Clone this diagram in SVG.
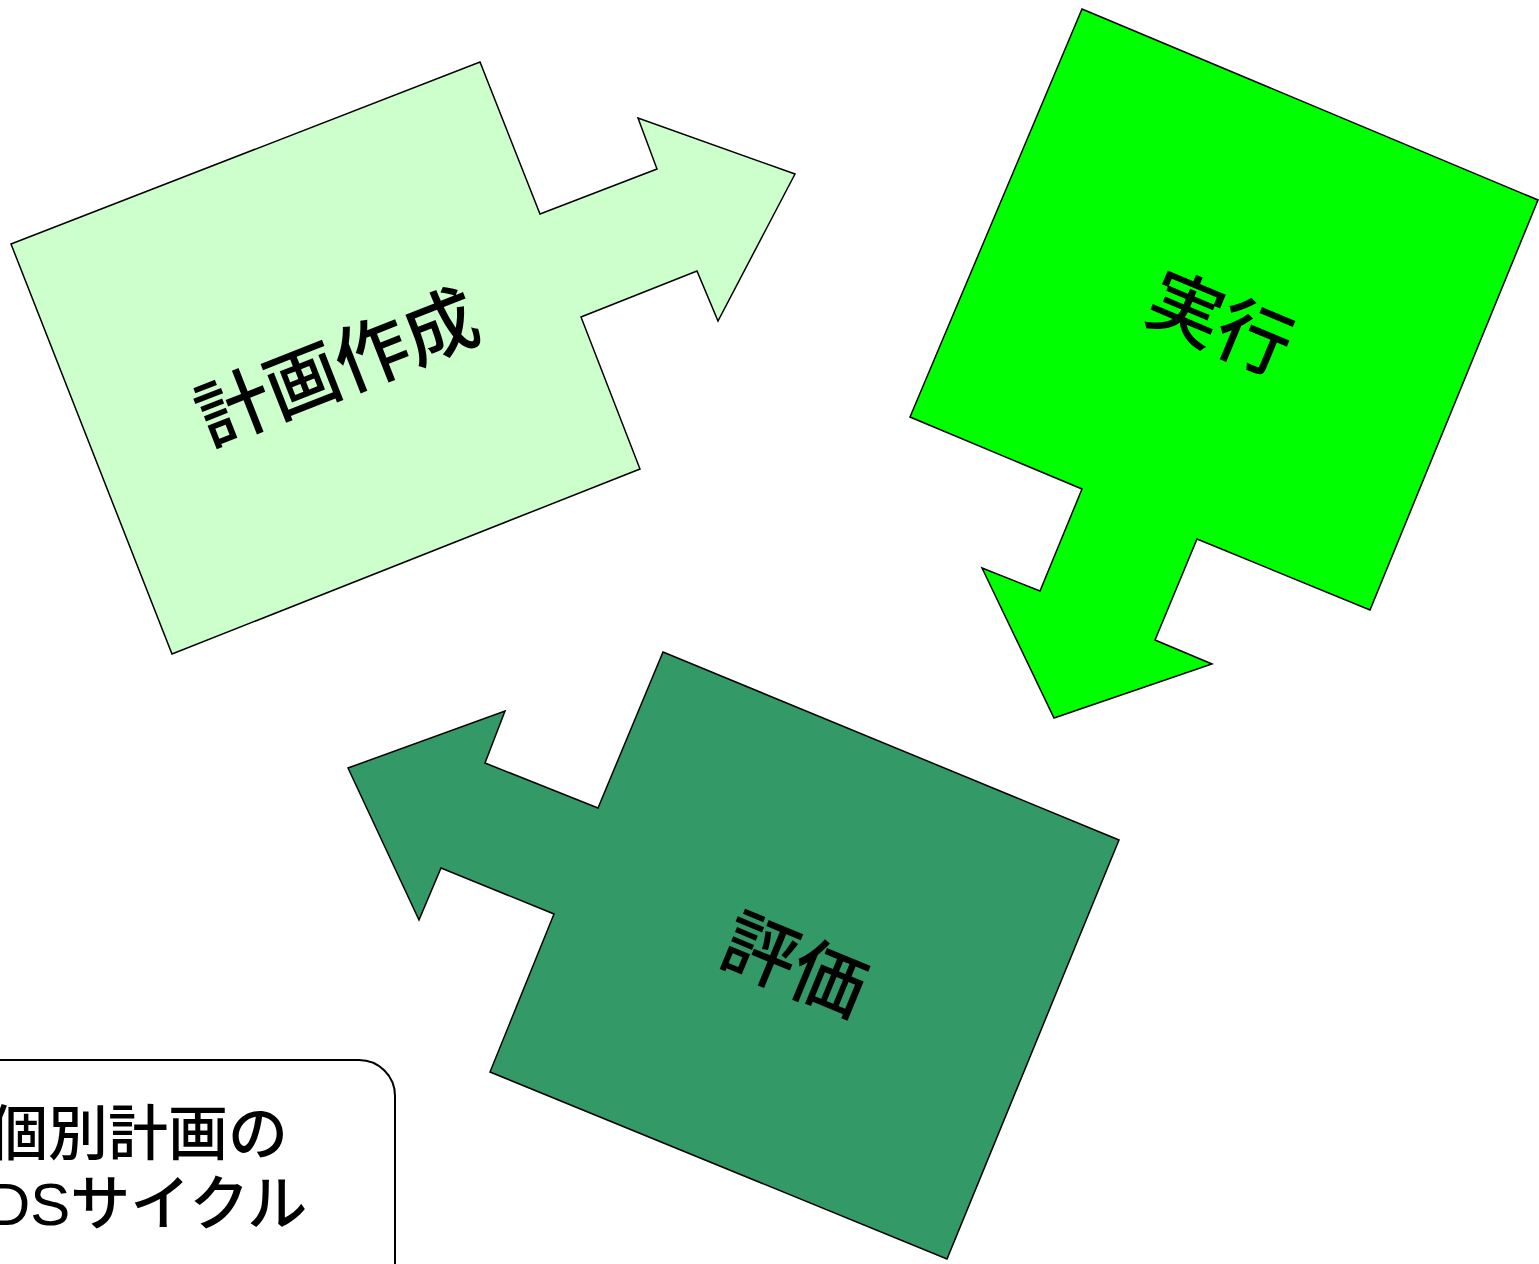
<svg xmlns="http://www.w3.org/2000/svg" width="1539" height="1264" viewBox="0 0 1539 1264">
<style>
.shape{stroke:#000;stroke-width:1.5;stroke-linejoin:miter}
.lbl{font-family:"Noto Sans CJK JP","Liberation Sans",sans-serif;font-weight:500;font-size:74px;fill:#000;text-anchor:middle;dominant-baseline:central}
.note{font-family:"Liberation Sans","Noto Sans CJK JP",sans-serif;font-weight:500;font-size:60px;fill:#000}
</style>
<rect width="1539" height="1264" fill="#fff"/>
<g id="plan">
<polygon class="shape" fill="#CCFFCC" points="11,244 480,62 540,214 657,169 638,118 795,174 718,321 697,271 581,317 640,469 172,654"/>
<text class="lbl" transform="translate(335,362) rotate(-21.5)">計画作成</text>
</g>
<g id="do">
<polygon class="shape" fill="#00FF00" points="1082,9 1538,200 1370,610 1197,539 1155,640 1212,664 1054,718 982,568 1040,591 1082,489 910,417"/>
<text class="lbl" transform="translate(1222,318) rotate(22.7)">実行</text>
</g>
<g id="see">
<polygon class="shape" fill="#339966" points="663,652 1119,840 947,1259 490,1072 554,914 441,868 419,920 348,768 505,711 485,763 598,808"/>
<text class="lbl" transform="translate(797,960) rotate(22.4)">評価</text>
</g>
<g id="connectors"></g>
<g id="title">
<rect x="-120" y="1060" width="515" height="240" rx="36" ry="36" fill="#fff" stroke="#000" stroke-width="2"/>
<text class="note" x="-12" y="1155">個別計画の</text>
<text class="note" x="-53" y="1225">PDSサイクル</text>
</g>
</svg>
